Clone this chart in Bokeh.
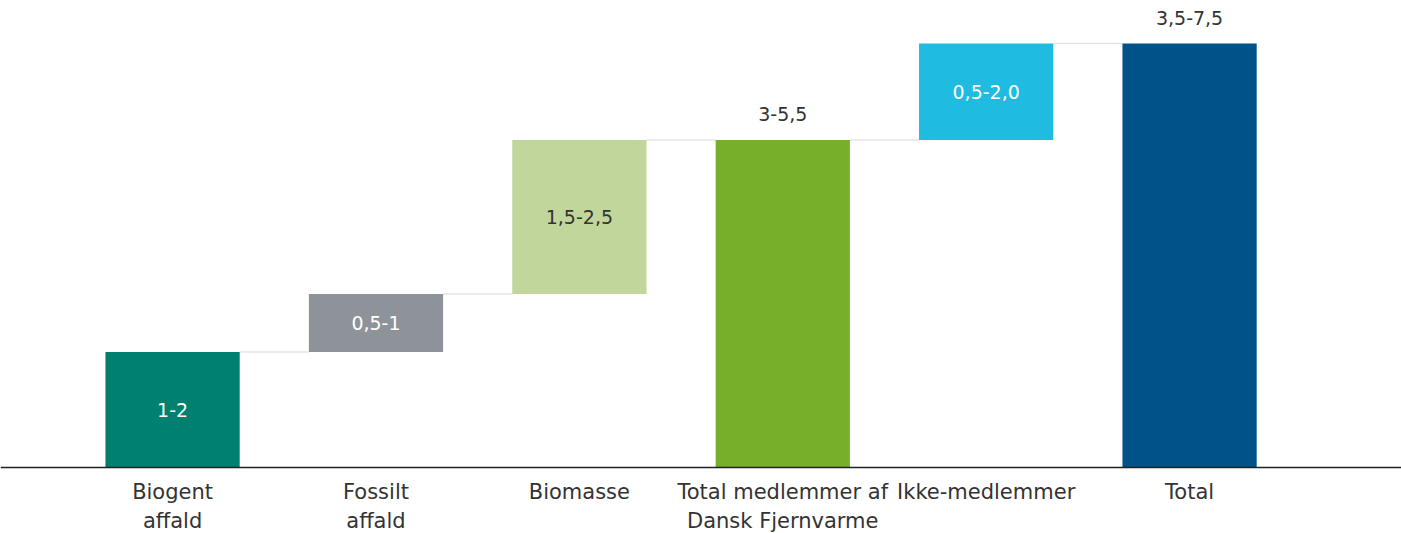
from bokeh.plotting import figure
from bokeh.models import ColumnDataSource, Span, Range1d
from bokeh.core.properties import value
from bokeh.embed import file_html
from bokeh.resources import INLINE

categories = ["Biogent\naffald", "Fossilt\naffald", "Biomasse",
              "Total medlemmer af\nDansk Fjernvarme", "Ikke-medlemmer", "Total"]
# midpoint of each range, used as bar height
amounts = [1.5, 0.75, 2.0, 4.25, 1.25, 5.5]
is_total = [False, False, False, True, False, True]
range_labels = ["1-2", "0,5-1", "1,5-2,5", "3-5,5", "0,5-2,0", "3,5-7,5"]
colors = ["#00806F", "#8E9399", "#C1D69B", "#78AF2A", "#1FBBE0", "#005288"]
label_colors = ["#FFFFFF", "#FFFFFF", "#333333", "#333333", "#FFFFFF", "#333333"]

FONT = "DejaVu Sans"

# waterfall geometry computed from the amounts
bottoms, tops = [], []
running = 0.0
for a, t in zip(amounts, is_total):
    if t:
        bottoms.append(0.0)
        tops.append(a)
        running = a
    else:
        bottoms.append(running)
        running += a
        tops.append(running)

xs = list(range(len(categories)))
src = ColumnDataSource(dict(x=xs, bottom=bottoms, top=tops, color=colors))

p = figure(width=1401, height=533, output_backend="svg", toolbar_location=None,
           x_range=Range1d(-0.846, 6.042), y_range=Range1d(-0.856, 6.058),
           min_border=0, x_axis_location=None, y_axis_location=None)
p.xgrid.visible = False
p.ygrid.visible = False
p.outline_line_color = None
p.background_fill_color = "white"

# connectors
W = 0.66
cx0, cx1, cy = [], [], []
for i in range(len(xs) - 1):
    cx0.append(xs[i] + W / 2)
    cx1.append(xs[i + 1] - W / 2)
    cy.append(tops[i])
p.segment(x0=cx0, y0=cy, x1=cx1, y1=cy, line_color="#E3E4EA", line_width=1.5)

p.vbar(x="x", bottom="bottom", top="top", width=W, fill_color="color",
       line_color=None, source=src)

p.add_layout(Span(location=0, dimension="width", line_color="#222222", line_width=1.5))

# labels inside bars (non-totals)
inside = ColumnDataSource(dict(
    x=[x for x, t in zip(xs, is_total) if not t],
    y=[(b + tp) / 2 for b, tp, t in zip(bottoms, tops, is_total) if not t],
    lab=[l for l, t in zip(range_labels, is_total) if not t],
    col=[c for c, t in zip(label_colors, is_total) if not t]))
p.text(x="x", y="y", text="lab", text_color="col", source=inside,
       text_align="center", text_baseline="middle", text_font=value(FONT),
       text_font_size="19px")

above = ColumnDataSource(dict(
    x=[x for x, t in zip(xs, is_total) if t],
    y=[tp for tp, t in zip(tops, is_total) if t],
    lab=[l for l, t in zip(range_labels, is_total) if t]))
p.text(x="x", y="y", text="lab", source=above, text_color="#333333",
       text_align="center", text_baseline="bottom", y_offset=-19,
       text_font=value(FONT), text_font_size="19px")

# category labels
catsrc = ColumnDataSource(dict(x=xs, y=[0] * len(xs), cat=categories))
p.text(x="x", y="y", text="cat", source=catsrc, text_color="#333333",
       text_align="center", text_baseline="top", y_offset=12,
       text_font=value(FONT), text_font_size="21px", text_line_height=1.22)

open("out.html", "w").write(file_html(p, INLINE))
